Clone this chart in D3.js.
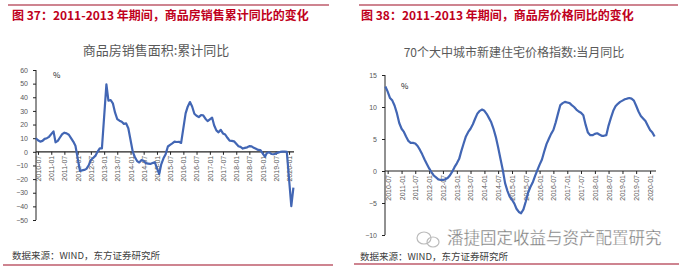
<!DOCTYPE html>
<html>
<head>
  <meta charset="utf-8">
  <style>
    body { margin: 0; background: #fff; }
    svg { display: block; font-family: "Noto Sans CJK SC", "Noto Sans", sans-serif; }
    .axis text { fill: #595959; font-size: 7px; font-family: "Liberation Sans", Arial, sans-serif; }
    .axis path, .axis line { stroke: #222; }
  </style>
</head>
<body>
  <svg id="chart" width="688" height="275"></svg>
  <script src="https://d3js.org/d3.v7.min.js"></script>
  <script>
    // 商品房销售面积:累计同比 (no January values)
    const salesDates = [
      "2010-06","2010-07","2010-08","2010-09","2010-10","2010-11","2010-12",
      "2011-02","2011-03","2011-04","2011-05","2011-06","2011-07","2011-08","2011-09","2011-10","2011-11","2011-12",
      "2012-02","2012-03","2012-04","2012-05","2012-06","2012-07","2012-08","2012-09","2012-10","2012-11","2012-12",
      "2013-02","2013-03","2013-04","2013-05","2013-06","2013-07","2013-08","2013-09","2013-10","2013-11","2013-12",
      "2014-02","2014-03","2014-04","2014-05","2014-06","2014-07","2014-08","2014-09","2014-10","2014-11","2014-12",
      "2015-02","2015-03","2015-04","2015-05","2015-06","2015-07","2015-08","2015-09","2015-10","2015-11","2015-12",
      "2016-02","2016-03","2016-04","2016-05","2016-06","2016-07","2016-08","2016-09","2016-10","2016-11","2016-12",
      "2017-02","2017-03","2017-04","2017-05","2017-06","2017-07","2017-08","2017-09","2017-10","2017-11","2017-12",
      "2018-02","2018-03","2018-04","2018-05","2018-06","2018-07","2018-08","2018-09","2018-10","2018-11","2018-12",
      "2019-02","2019-03","2019-04","2019-05","2019-06","2019-07","2019-08","2019-09","2019-10","2019-11","2019-12",
      "2020-02","2020-03"
    ];
    const salesValues = [
      10, 8.5, 7.5, 8, 9.5, 10, 11,
      15, 7, 8, 10.5, 13, 14, 13.5, 12.5, 10, 7.5, 4.4,
      -14, -13.6, -13.3, -12.5, -10, -6, -4.5, -3, 0, 2.5, 2.5,
      49.5, 37.5, 38, 35.6, 28.7, 24, 22.8, 22, 20.5, 20.8, 17.3,
      -0.1, -3.8, -6.8, -7.8, -6, -6.6, -8.3, -8.6, -8.9, -8.2, -7.6,
      -16.3, -9.2, -4.8, -1.7, 3.9, 5.1, 6.2, 7.5, 7.2, 7.4, 6.5,
      28.2, 33.1, 36.5, 33.2, 27.9, 26.4, 25.5, 26.9, 26.8, 24.3, 22.5,
      25.1, 19.5, 15.7, 14.3, 16.1, 13.5, 12.7, 10.3, 8.2, 8.0, 7.7,
      4.1, 3.6, 2.4, 2.9, 3.3, 4.2, 4.0, 2.9, 2.2, 1.4, 1.3,
      -3.6, -0.9, -0.3, -1.6, -1.8, -1.3, -0.6, -0.1, 0.1, 0.2, -0.1,
      -39.9, -26.3
    ];

    // 70个大中城市新建住宅价格指数:当月同比, monthly from 2010-06
    const priceStart = "2010-06";
    const priceValues = [
      13.2, 12.4, 11.4, 11.0, 10.2, 9.0, 7.5,
      6.6, 6.1, 5.4, 4.7, 4.4, 4.4, 4.3, 3.9, 3.3, 2.6, 1.8, 1.1,
      0.4, -0.2, -0.7, -1.0, -1.3, -1.4, -1.4, -1.3, -1.1, -0.7, -0.1, 0.6,
      1.2, 1.9, 3.1, 4.3, 5.4, 6.1, 6.6, 7.3, 8.2, 9.0, 9.4, 9.6,
      9.4, 8.9, 8.3, 7.6, 6.6, 5.3, 3.7, 1.9, 0.15, -1.9, -3.1, -4.0,
      -4.5, -5.1, -5.9, -6.4, -6.6, -6.0, -4.8, -3.4, -2.5, -1.8, -0.8, 0.1,
      1.0, 1.8, 3.0, 4.2, 5.0, 5.8, 6.4, 7.6, 9.0, 10.3, 10.6, 10.8,
      10.7, 10.6, 10.3, 10.0, 9.6, 9.3, 9.1, 8.7, 7.2, 6.0, 5.6, 5.6,
      5.8, 5.9, 5.7, 5.5, 5.5, 5.6, 7.1, 8.3, 9.4, 10.1, 10.5, 10.8,
      11.0, 11.2, 11.3, 11.4, 11.3, 11.0, 10.2, 9.3, 8.6, 8.2, 7.8, 7.1,
      6.4, 6.0, 5.4
    ];

    const tickMonths = ["2010-07","2011-01","2011-07","2012-01","2012-07","2013-01","2013-07",
      "2014-01","2014-07","2015-01","2015-07","2016-01","2016-07","2017-01","2017-07",
      "2018-01","2018-07","2019-01","2019-07","2020-01"];
    const salesTicks = [60, 50, 40, 30, 20, 10, 0, -10, -20, -30, -40, -50];
    const priceTicks = [15, 10, 5, 0, -5, -10];

    const parse = d3.timeParse("%Y-%m");
    const fmt = d3.timeFormat("%Y-%m");
    const svg = d3.select("#chart");
    const red = "#9e0b22";

    function panel(o) {
      const g = svg.append("g");
      g.append("line").attr("x1", o.topX[0]).attr("x2", o.topX[1]).attr("y1", 5).attr("y2", 5)
        .attr("stroke", red).attr("stroke-width", 1.2);
      g.append("text").attr("x", o.titleX).attr("y", 20).attr("fill", "#c0001c")
        .attr("font-size", 12).attr("font-weight", "bold").text(o.title);
      g.append("text").attr("x", o.subX).attr("y", o.subY).attr("text-anchor", "middle")
        .attr("fill", "#595959").attr("font-size", o.subSize).text(o.sub);

      const x = d3.scaleTime().domain([parse("2010-06"), parse("2020-03")]).range(o.xr);
      const y = d3.scaleLinear().domain(o.yd).range(o.yr);

      g.append("g").attr("class", "axis").attr("transform", `translate(${o.axisX},0)`)
        .call(d3.axisLeft(y).tickValues(o.yTicks).tickSizeInner(3).tickSizeOuter(0).tickPadding(5))
        .call(a => a.select(".domain").attr("d", `M0,${y(o.yd[1])}V${y(o.yd[0])}`));

      const xa = g.append("g").attr("class", "axis").attr("transform", `translate(0,${y(0)})`)
        .call(d3.axisBottom(x).tickValues(tickMonths.map(parse)).tickFormat(fmt)
          .tickSizeInner(3).tickSizeOuter(0));
      xa.select(".domain").attr("d", `M${o.axisX},0H${o.xEnd}`).attr("stroke-width", 1.2);
      xa.selectAll("text").attr("transform", "rotate(-90)").attr("text-anchor", "end")
        .attr("x", -4).attr("y", 0).attr("dy", "0.35em");

      g.append("text").attr("x", o.pct[0]).attr("y", o.pct[1]).attr("font-size", 8)
        .attr("fill", "#222").text("%");

      g.append("path").datum(o.data).attr("fill", "none").attr("stroke", "#4266b4")
        .attr("stroke-width", 2.2).attr("stroke-linejoin", "round")
        .attr("d", d3.line().x(d => x(d[0])).y(d => y(d[1])));

      g.append("text").attr("x", o.srcX).attr("y", o.srcY).attr("font-size", 9.5)
        .attr("fill", "#404040").text("数据来源：WIND，东方证券研究所");
      g.append("line").attr("x1", o.botX[0]).attr("x2", o.botX[1]).attr("y1", o.botY).attr("y2", o.botY)
        .attr("stroke", red).attr("stroke-width", 1.2);
    }

    panel({
      topX: [8, 329], titleX: 12, title: "图 37：2011-2013 年期间，商品房销售累计同比的变化",
      sub: "商品房销售面积:累计同比", subX: 156, subY: 55, subSize: 13,
      xr: [35.8, 293.4], yd: [-50, 60], yr: [220, 70], yTicks: salesTicks,
      axisX: 36, xEnd: 294, pct: [53, 78],
      data: salesDates.map((d, i) => [parse(d), salesValues[i]]),
      srcX: 12, srcY: 259, botX: [3, 333], botY: 265
    });

    const priceDates = d3.timeMonth.range(parse(priceStart), d3.timeMonth.offset(parse(priceStart), priceValues.length));
    panel({
      topX: [359, 678], titleX: 361, title: "图 38：2011-2013 年期间，商品房价格同比的变化",
      sub: "70个大中城市新建住宅价格指数:当月同比", subX: 514, subY: 57, subSize: 12,
      xr: [385.4, 654.6], yd: [-10, 15], yr: [235, 75], yTicks: priceTicks,
      axisX: 385, xEnd: 656, pct: [401, 89],
      data: priceDates.map((d, i) => [d, priceValues[i]]),
      srcX: 360, srcY: 260, botX: [354, 679], botY: 264
    });

    // watermark
    const wm = svg.append("g");
    wm.append("ellipse").attr("cx", 424).attr("cy", 238).attr("rx", 7).attr("ry", 6)
      .attr("fill", "none").attr("stroke", "#bbb").attr("stroke-width", 1.2);
    wm.append("ellipse").attr("cx", 433).attr("cy", 242).attr("rx", 6).attr("ry", 5)
      .attr("fill", "none").attr("stroke", "#bbb").attr("stroke-width", 1.2);
    wm.append("text").attr("x", 447).attr("y", 244).attr("font-size", 16.5)
      .attr("fill", "#777").attr("stroke", "#fff").attr("stroke-width", 0.3)
      .text("潘捷固定收益与资产配置研究");
  </script>
</body>
</html>
